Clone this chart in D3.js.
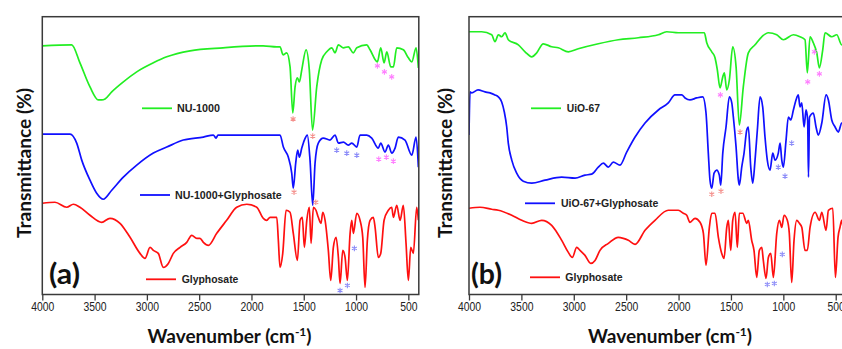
<!DOCTYPE html>
<html>
<head>
<meta charset="utf-8">
<script src="https://cdn.jsdelivr.net/npm/d3@7"></script>
<style>
  html, body { margin: 0; padding: 0; background: #fff; }
  svg { display: block; }
</style>
</head>
<body>
<svg id="chart" width="842" height="349"></svg>
<script>
// ---------- DATA (wavenumber cm-1, transmittance in arbitrary offset units) ----------
const xTicks = [4000, 3500, 3000, 2500, 2000, 1500, 1000, 500];

const nu1000 = [[4000,248],[3719,249],[3640,231],[3544,207],[3464,194],[3432,194],[3400,195],[3336,202],[3225,212],[3097,222],[2938,231],[2810,237],[2587,243],[2272,246],[1889,248],[1758,247],[1727,247],[1698,239],[1663,241],[1631,227],[1605,181],[1583,207],[1561,216],[1542,212],[1519,224],[1478,244],[1447,224],[1416,164],[1376,207],[1328,234],[1280,242],[1232,246],[1201,241],[1169,249],[1121,246],[1074,247],[1026,241],[993,246],[898,249],[866,244],[796,232],[764,246],[732,231],[706,242],[668,227],[643,227],[611,246],[548,244],[500,236],[467,232],[426,246],[404,226]];

const nu1000Gly = [[4000,160],[3735,160],[3671,151],[3623,134],[3544,114],[3480,101],[3417,95],[3336,104],[3225,117],[3097,129],[2938,141],[2810,147],[2652,154],[2460,157],[2365,159],[2339,156],[2320,159],[2237,159],[1871,159],[1727,159],[1695,147],[1648,137],[1615,121],[1600,106],[1577,131],[1558,144],[1542,137],[1519,146],[1494,154],[1466,159],[1440,134],[1414,89],[1392,131],[1361,151],[1313,156],[1249,154],[1201,159],[1169,151],[1121,152],[1074,149],[1041,151],[993,147],[962,159],[898,159],[850,156],[787,146],[764,151],[723,142],[691,149],[659,141],[627,146],[596,157],[532,154],[467,139],[426,157],[404,127]];

const glyA = [[4000,91],[3879,92],[3767,87],[3703,90],[3640,87],[3544,79],[3432,72],[3353,76],[3257,71],[3161,57],[3066,41],[3018,36],[2970,47],[2938,44],[2891,41],[2843,27],[2795,31],[2747,41],[2683,47],[2619,52],[2571,59],[2523,56],[2492,56],[2460,52],[2412,49],[2332,61],[2237,74],[2141,87],[2045,90],[1950,87],[1887,76],[1854,74],[1822,77],[1758,77],[1743,54],[1727,27],[1701,41],[1669,84],[1631,82],[1600,61],[1561,34],[1535,74],[1514,77],[1494,47],[1471,74],[1447,87],[1430,51],[1408,87],[1383,84],[1361,77],[1335,71],[1318,82],[1296,74],[1265,44],[1242,14],[1217,47],[1191,57],[1169,37],[1153,11],[1127,44],[1105,37],[1083,14],[1057,61],[1041,74],[1026,61],[993,81],[962,74],[936,57],[914,7],[892,54],[866,74],[835,77],[818,67],[787,37],[764,41],[732,74],[691,84],[659,87],[643,77],[611,89],[579,74],[548,89],[522,51],[500,14],[477,47],[452,41],[420,87],[404,74]];

const uio67 = [[4000,262],[3879,262],[3783,259],[3752,252],[3720,259],[3688,257],[3656,261],[3625,254],[3529,249],[3465,242],[3401,237],[3354,241],[3291,250],[3211,247],[3148,246],[3052,242],[2957,245],[2766,250],[2575,254],[2384,256],[2193,259],[2113,262],[2002,261],[1795,261],[1754,261],[1731,251],[1683,242],[1652,236],[1630,224],[1604,206],[1578,217],[1563,221],[1540,204],[1515,214],[1483,247],[1451,227],[1420,169],[1382,207],[1334,241],[1270,249],[1206,257],[1143,261],[1063,259],[1000,254],[904,259],[841,257],[793,254],[771,221],[745,257],[714,251],[681,241],[656,226],[624,244],[602,261],[538,257],[490,259],[443,249],[400,252]];

const uio67Gly = [[4000,159],[3990,202],[3974,201],[3914,204],[3847,202],[3800,201],[3752,199],[3720,197],[3688,192],[3663,182],[3640,167],[3625,151],[3592,134],[3545,121],[3482,113],[3401,111],[3275,114],[3115,117],[2988,116],[2893,119],[2829,120],[2766,127],[2718,131],[2670,127],[2623,132],[2559,129],[2495,142],[2415,157],[2320,171],[2193,184],[2098,191],[2034,199],[1970,199],[1938,196],[1891,194],[1827,196],[1769,197],[1738,181],[1716,141],[1700,114],[1683,106],[1661,121],[1636,124],[1611,119],[1597,109],[1578,141],[1547,167],[1515,197],[1492,191],[1477,177],[1451,147],[1429,114],[1420,109],[1397,127],[1375,141],[1349,164],[1334,167],[1311,127],[1292,111],[1270,134],[1248,164],[1222,197],[1197,187],[1175,157],[1153,134],[1127,124],[1101,141],[1079,134],[1048,141],[1031,151],[1015,134],[1000,127],[974,154],[952,177],[929,174],[904,184],[879,194],[857,199],[841,187],[824,191],[802,167],[783,184],[768,174],[760,117],[750,177],[714,181],[688,167],[666,159],[633,171],[592,199],[570,194],[538,174],[506,167],[475,162],[443,171],[400,165]];

const glyB = [[4000,86],[3895,87],[3783,85],[3720,84],[3592,79],[3497,74],[3401,71],[3306,74],[3211,69],[3115,54],[3052,42],[3014,37],[2972,47],[2940,44],[2893,39],[2838,31],[2797,34],[2750,44],[2670,51],[2575,57],[2527,56],[2479,54],[2415,50],[2320,64],[2225,74],[2098,84],[2002,84],[1954,81],[1922,79],[1891,72],[1843,76],[1795,72],[1763,61],[1738,29],[1706,67],[1683,81],[1652,81],[1620,57],[1588,41],[1566,36],[1540,67],[1525,74],[1502,44],[1483,74],[1461,82],[1439,47],[1420,81],[1387,81],[1349,71],[1334,74],[1302,54],[1280,44],[1254,17],[1229,44],[1206,47],[1191,34],[1165,16],[1143,37],[1120,41],[1095,17],[1063,61],[1038,74],[1015,67],[993,79],[962,74],[943,61],[920,12],[898,54],[872,74],[847,71],[824,67],[793,44],[771,44],[745,67],[697,82],[656,74],[633,82],[592,64],[570,84],[528,86],[503,17],[478,57],[459,67],[443,74],[420,62],[400,70]];

// asterisk markers: [wavenumber, value, kind]
const starsA = [[1602,175,"r"],[1414,158,"r"],[1593,102,"r"],[1385,92,"r"],
  [1185,144,"b"],[1089,141,"b"],[993,139,"b"],[1016,46,"b"],[1153,4,"b"],[1083,9,"b"],
  [796,228,"p"],[729,222,"p"],[659,217,"p"],[783,135,"p"],[710,137,"p"],[643,133,"p"]];
const starsB = [[1683,100,"r"],[1595,103,"r"],[1413,162,"r"],
  [1601,199,"p"],[767,212,"p"],[704,242,"p"],[656,220,"p"],
  [1048,127,"b"],[984,118,"b"],[920,151,"b"],[1010,40,"b"],[1153,10,"b"],[1086,11,"b"]];

const legendA = ["NU-1000", "NU-1000+Glyphosate", "Glyphosate"];
const legendB = ["UiO-67", "UiO-67+Glyphosate", "Glyphosate"];

// ---------- DRAWING ----------
const svg = d3.select("#chart");
const colors = { green: "#22ee22", blue: "#1010ff", red: "#ff1010" };
const starColors = { r: "#f4908c", b: "#8c8cf8", p: "#ff80ff" };
const y = d3.scaleLinear().domain([0, 277]).range([294.5, 16.7]);

const panels = [
  { id: "a", x: d3.scaleLinear().domain([4000, 400]).range([42.3, 418.8]),
    series: [[nu1000, "green"], [nu1000Gly, "blue"], [glyA, "red"]], stars: starsA,
    legend: legendA,
    legendPos: [[142, 108.3, 177, 43], [140, 195, 175, 106.7], [146, 279.3, 181.7, 56.7]],
    ytitleX: 24, label: "(a)", labelX: 49, xtitleX: 229.5 },
  { id: "b", x: d3.scaleLinear().domain([4000, 400]).range([469, 846.2]),
    series: [[uio67, "green"], [uio67Gly, "blue"], [glyB, "red"]], stars: starsB,
    legend: legendB,
    legendPos: [[531, 108.3, 566.7, 33.3], [525, 203.3, 561, 97.3], [530, 277.3, 565.3, 57.3]],
    ytitleX: 445, label: "(b)", labelX: 471, xtitleX: 670 }
];

panels.forEach(p => {
  const x = p.x;
  const [x0, x1] = x.range();
  const g = svg.append("g");

  g.append("clipPath").attr("id", "clip-" + p.id)
    .append("rect").attr("x", x0).attr("y", y(277)).attr("width", x1 - x0).attr("height", y(0) - y(277));

  const line = d3.line().x(d => x(d[0])).y(d => y(d[1])).curve(d3.curveMonotoneX);
  const plot = g.append("g").attr("clip-path", `url(#clip-${p.id})`);
  p.series.forEach(([data, c]) => {
    plot.append("path").datum(data).attr("d", line)
      .attr("fill", "none").attr("stroke", colors[c]).attr("stroke-width", 1.7)
      .attr("stroke-linejoin", "round");
  });

  // asterisks
  const sym = d3.symbol().type(d3.symbolAsterisk).size(22);
  plot.selectAll("path.star").data(p.stars).enter().append("path")
    .attr("class", "star").attr("d", sym)
    .attr("transform", d => `translate(${x(d[0])},${y(d[1])})`)
    .attr("fill", "none").attr("stroke", d => starColors[d[2]]).attr("stroke-width", 1.1);

  // frame
  g.append("rect").attr("x", x0).attr("y", y(277)).attr("width", x1 - x0).attr("height", y(0) - y(277))
    .attr("fill", "none").attr("stroke", "#3a3a3a").attr("stroke-width", 1.5);

  // x axis
  const ax = g.append("g").attr("transform", `translate(0,${y(0)})`)
    .call(d3.axisBottom(x).tickValues(xTicks).tickSize(6).tickSizeOuter(0).tickFormat(d3.format("d")));
  ax.select(".domain").remove();
  ax.selectAll(".tick line").attr("stroke", "#3a3a3a").attr("stroke-width", 1.3);
  ax.selectAll(".tick text")
    .attr("y", 17).attr("dy", 0)
    .attr("font-family", "'Liberation Sans', Arial, sans-serif").attr("font-size", 13)
    .attr("fill", "#222")
    .attr("transform", "scale(0.8,1)");

  // legend
  p.legend.forEach((name, i) => {
    const [lx, ly, tx, tw] = p.legendPos[i];
    const c = p.series[i][1];
    g.append("line").attr("x1", lx).attr("x2", lx + 30).attr("y1", ly).attr("y2", ly)
      .attr("stroke", colors[c]).attr("stroke-width", 1.8);
    g.append("text").attr("x", tx).attr("y", ly + 4)
      .attr("font-family", "'Liberation Sans', Arial, sans-serif").attr("font-weight", "bold")
      .attr("font-size", 11).attr("fill", "#222")
      .attr("textLength", tw).attr("lengthAdjust", "spacingAndGlyphs")
      .text(name);
  });

  // panel label
  g.append("text").attr("x", p.labelX).attr("y", 283.5)
    .attr("font-family", "Lato, 'Open Sans', sans-serif").attr("font-weight", "bold")
    .attr("font-size", 29).attr("fill", "#111")
    .attr("textLength", 31).attr("lengthAdjust", "spacingAndGlyphs")
    .text(p.label);

  // y title
  g.append("text")
    .attr("transform", `translate(${p.ytitleX},163) rotate(-90)`)
    .attr("text-anchor", "middle").attr("dominant-baseline", "central")
    .attr("font-family", "Lato, 'Open Sans', sans-serif").attr("font-weight", "bold")
    .attr("font-size", 18).attr("fill", "#111")
    .attr("textLength", 150).attr("lengthAdjust", "spacingAndGlyphs")
    .text("Transmittance (%)");

  // x title
  const xt = g.append("text").attr("x", p.xtitleX).attr("y", 343)
    .attr("text-anchor", "middle")
    .attr("font-family", "Lato, 'Open Sans', sans-serif").attr("font-weight", "bold")
    .attr("font-size", 19).attr("fill", "#111");
  xt.append("tspan").text("Wavenumber (cm");
  xt.append("tspan").attr("font-size", 12).attr("dy", -7).text("-1");
  xt.append("tspan").attr("dy", 7).text(")");
});
</script>
</body>
</html>
